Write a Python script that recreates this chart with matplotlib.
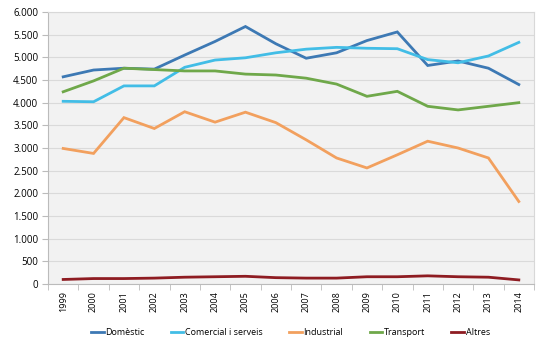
import numpy as np
import matplotlib.pyplot as plt
from matplotlib.ticker import FuncFormatter, FixedLocator

years = [str(y) for y in range(1999, 2015)]

domestic = [4570, 4720, 4760, 4740, 5050, 5350, 5680, 5300, 4980, 5100, 5370, 5560, 4820, 4920, 4760, 4400]
comercial = [4030, 4020, 4370, 4370, 4780, 4940, 4990, 5100, 5180, 5220, 5200, 5190, 4950, 4880, 5030, 5330]
industrial = [2990, 2880, 3670, 3430, 3800, 3570, 3790, 3560, 3180, 2780, 2560, 2850, 3150, 3000, 2780, 1820]
transport = [4240, 4480, 4760, 4730, 4700, 4700, 4630, 4610, 4540, 4410, 4140, 4250, 3920, 3840, 3920, 4000]
altres = [100, 120, 120, 130, 150, 160, 170, 140, 130, 130, 160, 160, 180, 160, 150, 90]

series = [
    ('Domèstic', domestic, '#3d79b4'),
    ('Comercial i serveis', comercial, '#42bde6'),
    ('Industrial', industrial, '#f2a05e'),
    ('Transport', transport, '#6fa84a'),
    ('Altres', altres, '#8e1c22'),
]

plt.rcParams['font.family'] = ['Open Sans', 'DejaVu Sans']

fig = plt.figure(figsize=(5.38, 3.5), dpi=100)
ax = fig.add_axes([48 / 538, 66 / 350, 486 / 538, 272 / 350])
ax.set_facecolor('#f2f2f2')

x = np.arange(len(years))
for name, vals, col in series:
    ax.plot(x, vals, color=col, lw=2, label=name, solid_joinstyle='miter')

ax.set_xlim(-0.5, len(years) - 0.5)
ax.set_ylim(0, 6000)
ax.set_yticks(np.arange(0, 6001, 500))
ax.yaxis.set_major_formatter(FuncFormatter(lambda v, p: f'{int(v):,}'.replace(',', '.')))
ax.grid(axis='y', color='#dadada', lw=0.8)
ax.set_axisbelow(True)

ax.set_xticks(x)
ax.set_xticklabels(years, rotation=90, fontsize=6.5)
ax.tick_params(axis='x', which='major', length=0, pad=5)
ax.xaxis.set_minor_locator(FixedLocator(np.arange(-0.5, len(years), 1)))
ax.tick_params(axis='x', which='minor', length=4, color='#bbbbbb')
ax.tick_params(axis='y', labelsize=7, length=4, color='#bbbbbb', pad=3)

for s in ['top', 'right']:
    ax.spines[s].set_color('#d8d8d8')
for s in ['left', 'bottom']:
    ax.spines[s].set_color('#bbbbbb')

fig.legend(loc='center', bbox_to_anchor=(0.54, 0.05), ncol=5, frameon=False,
           fontsize=6.5, handlelength=1.4, handletextpad=0.2, columnspacing=2.9)

fig.savefig('out.png', dpi=100)
